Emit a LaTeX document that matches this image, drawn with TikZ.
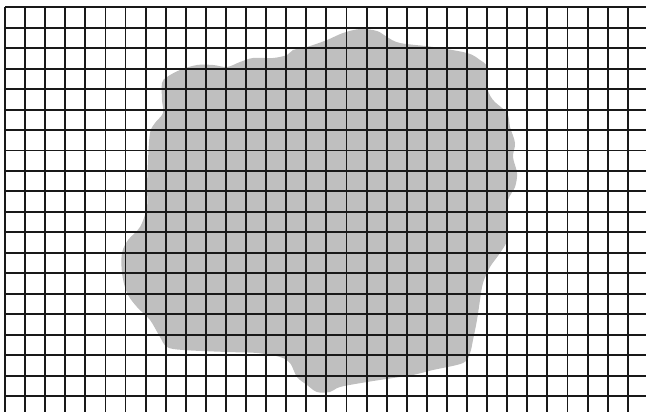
\documentclass[tikz,border=0pt]{standalone}
\usepackage{tikz}
\tikzset{
  gridline/.style={draw=black!90, line width=1.9pt},
  blob/.style={fill=black!25, draw=none}
}

\begin{document}
\begin{tikzpicture}[x=1pt, y=-1pt]
  \useasboundingbox (0,0) rectangle (646,412);
  % grey patch under the grid
  \fill[blob] plot[smooth cycle, tension=0.55] coordinates {
    (360,29) (377,31) (387,37) (400,43) (433,47) (467,53) (480,60) (487,67)
    (487,87) (493,100) (507,113) (510,127) (515,143) (513,157) (517,173)
    (515,187) (508,200) (507,217) (507,240) (500,253) (490,267) (483,283)
    (480,300) (477,320) (473,340) (470,353) (463,363) (433,370) (413,375)
    (393,378) (367,382) (340,387) (330,392) (317,392) (307,385) (297,377)
    (290,363) (280,357) (257,353) (227,352) (183,350) (167,347) (160,337)
    (150,320) (137,307) (127,293) (122,273) (122,253) (128,240) (140,227)
    (147,207) (147,187) (148,160) (150,133) (155,123) (163,113) (162,100)
    (162,83) (167,77) (180,70) (197,65) (213,65) (227,67) (240,62) (253,58)
    (273,58) (287,55) (293,50) (307,47) (327,40) (343,33)};
  % grid
  \foreach \i in {0,...,31}
    \draw[gridline] ({5+20.09*\i},7.3) -- ({5+20.09*\i},412);
  \foreach \j in {0,...,19}
    \draw[gridline] (5,{7.3+20.46*\j}) -- (646,{7.3+20.46*\j});
\end{tikzpicture}
\end{document}
